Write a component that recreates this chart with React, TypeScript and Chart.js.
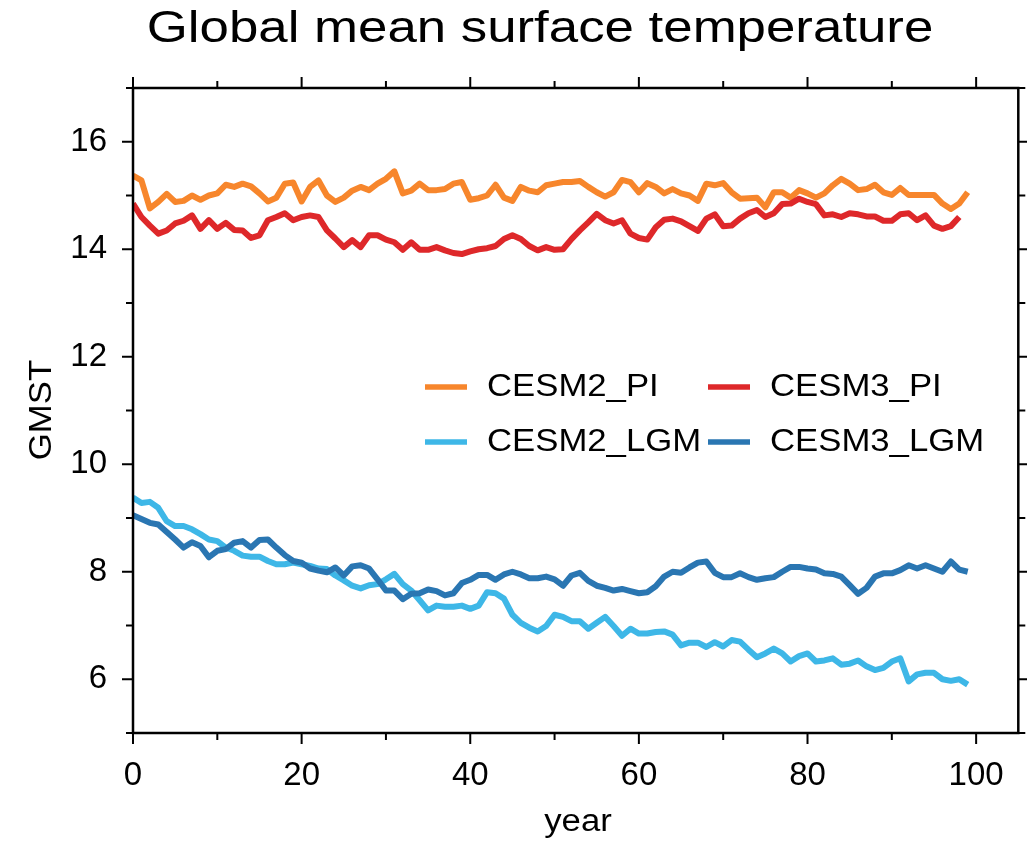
import React, { useEffect, useRef } from "react";
import { Chart, registerables } from "chart.js";

Chart.register(...registerables);

const cesm2PI = [
  15.37, 15.28, 14.76, 14.88, 15.03, 14.88, 14.9, 15.0, 14.92, 15.0,
  15.04, 15.2, 15.16, 15.22, 15.17, 15.04, 14.89, 14.96, 15.22, 15.24,
  14.89, 15.16, 15.28, 15.0, 14.88, 14.96, 15.09, 15.16, 15.1, 15.22,
  15.31, 15.45, 15.04, 15.09, 15.22, 15.1, 15.1, 15.12, 15.22, 15.25,
  14.92, 14.95, 15.0, 15.2, 14.96, 14.9, 15.16, 15.09, 15.06, 15.19,
  15.22, 15.25, 15.25, 15.27, 15.16, 15.06, 14.98, 15.06, 15.29, 15.25,
  15.06, 15.23, 15.16, 15.04, 15.12, 15.04, 15.0, 14.9, 15.22, 15.19,
  15.23, 15.06, 14.94, 14.95, 14.96, 14.78, 15.06, 15.06, 14.96, 15.1,
  15.04, 14.96, 15.04, 15.19, 15.31, 15.22, 15.1, 15.12, 15.2, 15.06,
  15.01, 15.14, 15.01, 15.01, 15.01, 15.01, 14.85, 14.75, 14.85, 15.06,
];

const cesm3PI = [
  14.85, 14.6, 14.44, 14.29, 14.35, 14.48, 14.53, 14.63, 14.38, 14.54,
  14.38, 14.49, 14.36, 14.35, 14.21, 14.26, 14.54, 14.6, 14.67, 14.54,
  14.6, 14.63, 14.6, 14.35, 14.2, 14.04, 14.17, 14.04, 14.26, 14.26,
  14.18, 14.13, 13.99, 14.13, 13.99, 13.99, 14.04, 13.98, 13.93, 13.91,
  13.96, 14.0, 14.02, 14.06, 14.19, 14.26, 14.19, 14.06, 13.98, 14.04,
  13.99, 14.0, 14.19, 14.35, 14.5, 14.66, 14.54, 14.48, 14.54, 14.29,
  14.21, 14.18, 14.41, 14.55, 14.57, 14.52, 14.43, 14.34, 14.57, 14.65,
  14.43, 14.44, 14.57, 14.67, 14.73, 14.6, 14.67, 14.84, 14.85, 14.94,
  14.88, 14.84, 14.63, 14.65, 14.6, 14.67, 14.65, 14.61, 14.61, 14.53,
  14.53, 14.65, 14.67, 14.54, 14.63, 14.44, 14.38, 14.43, 14.6,
];

const cesm2LGM = [
  9.38, 9.28, 9.3, 9.19, 8.94, 8.85, 8.85, 8.79, 8.7, 8.6,
  8.57, 8.45, 8.39, 8.3, 8.28, 8.28, 8.2, 8.14, 8.14, 8.17,
  8.14, 8.11, 8.06, 8.05, 7.93, 7.84, 7.74, 7.69, 7.75, 7.77,
  7.86, 7.96, 7.77, 7.65, 7.47, 7.28, 7.37, 7.35, 7.35, 7.37,
  7.31, 7.37, 7.62, 7.6, 7.5, 7.2, 7.05, 6.96, 6.89, 6.99,
  7.2, 7.16, 7.08, 7.08, 6.94, 7.05, 7.16, 6.99, 6.81, 6.94,
  6.85, 6.85, 6.88, 6.89, 6.83, 6.63, 6.68, 6.68, 6.6, 6.69,
  6.61, 6.73, 6.7, 6.55, 6.41, 6.48, 6.57, 6.48, 6.33, 6.43,
  6.48, 6.33, 6.35, 6.39, 6.27, 6.29, 6.35, 6.24, 6.17, 6.21,
  6.33, 6.39, 5.96, 6.09, 6.12, 6.12, 6.0, 5.97, 6.0, 5.9,
];

const cesm3LGM = [
  9.05, 8.98, 8.91, 8.88, 8.74, 8.6, 8.45, 8.55, 8.48, 8.27,
  8.39, 8.42, 8.54, 8.57, 8.45, 8.59, 8.6, 8.45, 8.31, 8.2,
  8.17, 8.06, 8.02, 7.99, 8.08, 7.93, 8.1, 8.12, 8.06, 7.86,
  7.65, 7.65, 7.49, 7.59, 7.6, 7.67, 7.64, 7.56, 7.6, 7.79,
  7.85, 7.94, 7.94, 7.85, 7.95, 8.0, 7.95, 7.88, 7.88, 7.91,
  7.86, 7.74, 7.93, 7.98, 7.83, 7.74, 7.7, 7.65, 7.68, 7.64,
  7.6, 7.62, 7.73, 7.91, 8.0, 7.98, 8.08, 8.17, 8.19, 7.98,
  7.9, 7.9, 7.97, 7.9, 7.85, 7.88, 7.9, 8.0, 8.09, 8.09,
  8.06, 8.04, 7.97, 7.96, 7.91, 7.75, 7.59, 7.7, 7.91, 7.97,
  7.97, 8.03, 8.12, 8.06, 8.12, 8.06, 8.0, 8.19, 8.04, 8.0,
];

const seriesNames = ["CESM2_PI", "CESM3_PI", "CESM2_LGM", "CESM3_LGM"];
const seriesColors = ["#F7862C", "#DE282A", "#3EB7E7", "#2A76B2"];
const seriesValues = [cesm2PI, cesm3PI, cesm2LGM, cesm3LGM];
const seriesOrder = [3, 1, 2, 0];

const xTickValues = [0, 20, 40, 60, 80, 100];
const xMinorTickValues = [10, 30, 50, 70, 90];
const yTickValues = [6, 8, 10, 12, 14, 16];
const yMinorTickValues = [5, 7, 9, 11, 13, 15, 17];

const titleText = "Global mean surface temperature";
const xAxisTitle = "year";
const yAxisTitle = "GMST";

const FONT = "'Liberation Sans', Arial, Helvetica, sans-serif";

function stretchedText(
  ctx: CanvasRenderingContext2D,
  text: string,
  x: number,
  y: number,
  size: number,
  sx: number,
  align: CanvasTextAlign,
  rotate = 0
) {
  ctx.save();
  ctx.translate(x, y);
  if (rotate) ctx.rotate(rotate);
  ctx.scale(sx, 1);
  ctx.font = `${size}px ${FONT}`;
  ctx.fillStyle = "#000";
  ctx.textAlign = align;
  ctx.textBaseline = "alphabetic";
  ctx.fillText(text, 0, 0);
  ctx.restore();
}

const decorPlugin = {
  id: "decor",
  afterDatasetsDraw(chart: any) {
    const { ctx, chartArea: a, scales } = chart;
    const xs = scales.x;
    const ys = scales.y;
    ctx.save();
    ctx.strokeStyle = "#000";
    ctx.lineWidth = 2.5;
    ctx.strokeRect(a.left, a.top, a.right - a.left, a.bottom - a.top);
    ctx.lineWidth = 2;
    const seg = (x1: number, y1: number, x2: number, y2: number) => {
      ctx.beginPath();
      ctx.moveTo(x1, y1);
      ctx.lineTo(x2, y2);
      ctx.stroke();
    };
    const major = 11;
    const minor = 7;
    xTickValues.forEach((v) => {
      const p = xs.getPixelForValue(v);
      seg(p, a.bottom, p, a.bottom + major);
      seg(p, a.top, p, a.top - major);
    });
    xMinorTickValues.forEach((v) => {
      const p = xs.getPixelForValue(v);
      seg(p, a.bottom, p, a.bottom + minor);
      seg(p, a.top, p, a.top - minor);
    });
    yTickValues.forEach((v) => {
      const p = ys.getPixelForValue(v);
      seg(a.left, p, a.left - major, p);
      seg(a.right, p, a.right + major, p);
    });
    yMinorTickValues.forEach((v) => {
      const p = ys.getPixelForValue(v);
      seg(a.left, p, a.left - minor, p);
      seg(a.right, p, a.right + minor, p);
    });
    ctx.restore();
  },
  afterDraw(chart: any) {
    const { ctx } = chart;
    ctx.save();
    stretchedText(ctx, titleText, 540, 42, 44, 1.2, "center");
    stretchedText(ctx, xAxisTitle, 578, 831, 31, 1.12, "center");
    stretchedText(ctx, yAxisTitle, 51, 410, 31, 1.12, "center", -Math.PI / 2);
    const rows = [
      { y: 387, items: [0, 1] },
      { y: 442, items: [2, 3] },
    ];
    const cols = [425, 708];
    rows.forEach((row) => {
      row.items.forEach((idx, c) => {
        const sx = cols[c];
        ctx.strokeStyle = seriesColors[idx];
        ctx.lineWidth = 5.5;
        ctx.beginPath();
        ctx.moveTo(sx, row.y);
        ctx.lineTo(sx + 42, row.y);
        ctx.stroke();
        stretchedText(ctx, seriesNames[idx], sx + 62, row.y + 9, 31, 1.12, "left");
      });
    });
    ctx.restore();
  },
};

export default function App() {
  const ref = useRef<HTMLCanvasElement | null>(null);

  useEffect(() => {
    document.body.style.margin = "0";
    const canvas = ref.current;
    if (!canvas) return;
    const datasets = seriesValues.map((vals, i) => ({
      label: seriesNames[i],
      data: vals.map((v, k) => ({ x: k, y: v })),
      borderColor: seriesColors[i],
      backgroundColor: seriesColors[i],
      borderWidth: 6,
      pointRadius: 0,
      tension: 0,
      fill: false,
      borderJoinStyle: "round" as const,
      borderCapStyle: "butt" as const,
      order: seriesOrder[i],
    }));
    const chart = new Chart(canvas, {
      type: "line",
      data: { datasets },
      options: {
        animation: false,
        responsive: false,
        devicePixelRatio: 1,
        layout: { padding: { top: 88, right: 7, left: 0, bottom: 0 } },
        plugins: {
          legend: { display: false },
          title: { display: false },
          tooltip: { enabled: false },
        },
        scales: {
          x: {
            type: "linear",
            min: 0,
            max: 105,
            grid: { display: false, drawTicks: false },
            border: { display: false },
            afterBuildTicks: (s: any) => {
              s.ticks = xTickValues.map((v) => ({ value: v }));
            },
            afterFit: (s: any) => {
              s.height = 109;
            },
            ticks: {
              padding: 23,
              color: "#000",
              maxRotation: 0,
              autoSkip: false,
              font: { family: FONT, size: 33 },
            },
          },
          y: {
            type: "linear",
            min: 5,
            max: 17,
            grid: { display: false, drawTicks: false },
            border: { display: false },
            afterBuildTicks: (s: any) => {
              s.ticks = yTickValues.map((v) => ({ value: v }));
            },
            afterFit: (s: any) => {
              s.width = 133;
            },
            ticks: {
              padding: 26,
              color: "#000",
              autoSkip: false,
              font: { family: FONT, size: 33 },
            },
          },
        },
      },
      plugins: [decorPlugin],
    });
    return () => chart.destroy();
  }, []);

  return (
    <canvas
      ref={ref}
      width={1027}
      height={842}
      style={{ display: "block", width: 1027, height: 842 }}
    />
  );
}
